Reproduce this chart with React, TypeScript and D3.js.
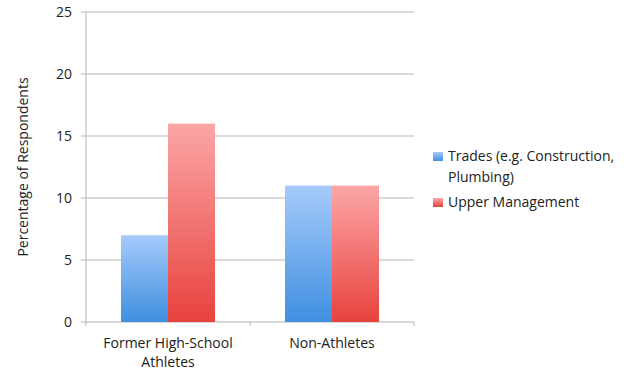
import React from "react";
import * as d3 from "d3";

const categories = ["Former High-School|Athletes", "Non-Athletes"];
const seriesNames = ["Trades (e.g. Construction,|Plumbing)", "Upper Management"];
const trades = [7, 11];
const management = [16, 11];
const yTicks = [0, 5, 10, 15, 20, 25];

const W = 630, H = 377;
const M = { left: 86, right: 216, top: 12, bottom: 55 };
const FONT = "'Open Sans', 'Noto Sans', sans-serif";

export default function App() {
  const x0 = d3.scaleBand().domain(categories).range([M.left, W - M.right]).paddingInner(0).paddingOuter(0);
  const x1 = d3.scaleBand().domain(["a", "b"]).range([0, x0.bandwidth()]).paddingInner(0).paddingOuter(0.7447);
  const y = d3.scaleLinear().domain([0, 25]).range([H - M.bottom, M.top]);
  const series = [
    { key: "a", values: trades, fill: "url(#gBlue)", swatch: "url(#gBlue)" },
    { key: "b", values: management, fill: "url(#gRed)", swatch: "url(#gRed)" },
  ];
  const xr = W - M.right;
  return (
    <svg width={W} height={H} style={{ position: "absolute", left: 0, top: 0, background: "#fff" }} fontFamily={FONT}>
      <defs>
        <linearGradient id="gBlue" x1="0" y1="0" x2="0" y2="1">
          <stop offset="0" stopColor="#a6cbfb" />
          <stop offset="1" stopColor="#3f8fe0" />
        </linearGradient>
        <linearGradient id="gRed" x1="0" y1="0" x2="0" y2="1">
          <stop offset="0" stopColor="#fba6a6" />
          <stop offset="1" stopColor="#e8423d" />
        </linearGradient>
      </defs>
      {yTicks.map((t) => (
        <g key={t}>
          <line x1={M.left - 5} x2={xr} y1={y(t)} y2={y(t)} stroke="#b5b5b5" strokeWidth={1} />
          <text x={M.left - 14} y={y(t)} dy="0.35em" textAnchor="end" fontSize={14} fill="#222">{t}</text>
        </g>
      ))}
      <line x1={M.left} x2={M.left} y1={M.top} y2={y(0)} stroke="#b5b5b5" />
      {[...categories.map((c) => x0(c)!), xr].map((xv, i) => (
        <line key={i} x1={xv} x2={xv} y1={y(0)} y2={y(0) + 4} stroke="#b5b5b5" />
      ))}
      {categories.map((c, ci) => (
        <g key={c}>
          {series.map((s) => (
            <rect key={s.key} x={x0(c)! + x1(s.key)!} width={x1.bandwidth()} y={y(s.values[ci])} height={y(0) - y(s.values[ci])} fill={s.fill} />
          ))}
          {c.split("|").map((line, li) => (
            <text key={li} x={x0(c)! + x0.bandwidth() / 2} y={y(0) + 26 + li * 19} textAnchor="middle" fontSize={14} fill="#222">{line}</text>
          ))}
        </g>
      ))}
      <text transform={`translate(28,${(M.top + y(0)) / 2}) rotate(-90)`} textAnchor="middle" fontSize={14} fill="#222">Percentage of Respondents</text>
      {series.map((s, i) => {
        const ly = i === 0 ? 156 : 202;
        return (
          <g key={s.key}>
            <rect x={433} y={ly - 4} width={10} height={9} fill={s.swatch} />
            {seriesNames[i].split("|").map((line, li) => (
              <text key={li} x={448} y={ly + li * 21} dy="0.35em" fontSize={14} fill="#222">{line}</text>
            ))}
          </g>
        );
      })}
    </svg>
  );
}
